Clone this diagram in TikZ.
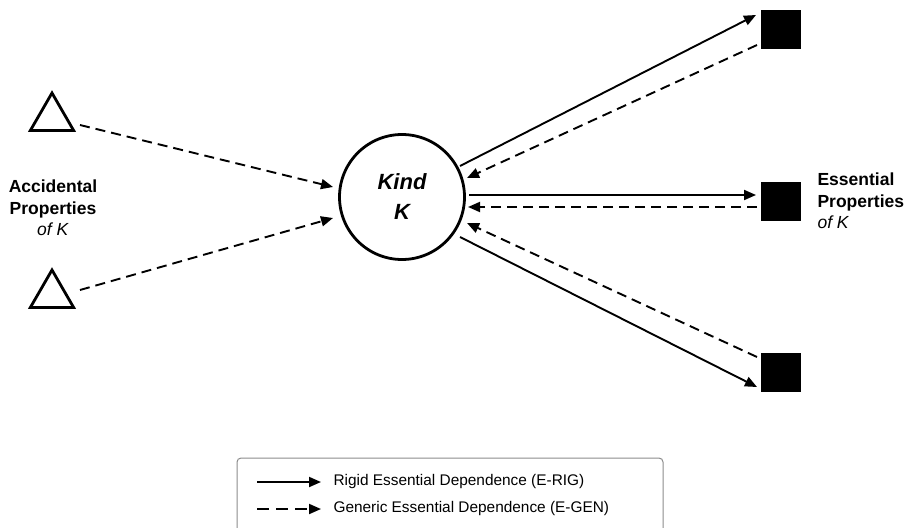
\documentclass[tikz,border=0pt]{standalone}
\usepackage{fontspec}
\setmainfont{Liberation Sans}
\usetikzlibrary{arrows.meta,calc,shapes.geometric}
\begin{document}
\begin{tikzpicture}[x=1pt,y=-1pt,
  tip/.style={-{Triangle[length=12pt,width=10pt]}},
  rig/.style={tip,line width=1.9pt},
  gen/.style={tip,line width=1.9pt,dash pattern=on 10pt off 6pt},
  kindnode/.style={circle,draw,line width=2.8pt,minimum size=125pt,inner sep=0pt,
    align=center,font=\fontsize{22}{30}\selectfont\bfseries\itshape},
  essnode/.style={rectangle,fill=black,minimum width=40pt,minimum height=39pt,inner sep=0pt},
  accnode/.style={regular polygon,regular polygon sides=3,draw,line width=2.8pt,minimum size=50pt,inner sep=0pt},
  lbl/.style={font=\fontsize{17.5}{21.5}\selectfont},
  legtext/.style={anchor=west,font=\fontsize{15.4}{18}\selectfont}]
\useasboundingbox (0,0) rectangle (912,527);
\fill[white] (0,0) rectangle (912,527);

\node[kindnode] (K) at (402,197) {Kind\\K};
\node[essnode] (S1) at (781,30) {};
\node[essnode] (S2) at (781,201) {};
\node[essnode] (S3) at (781,372) {};
\node[accnode] (T1) at (52,118) {};
\node[accnode] (T2) at (52,295) {};

\node[lbl,align=center] (AL) at (53,208) {\textbf{Accidental}\\\textbf{Properties}\\\textit{of K}};
\node[lbl,align=left,anchor=west] (EL) at (814,201) {\textbf{Essential}\\\textbf{Properties}\\\textit{of K}};

% accidental
\draw[gen] ($(T1.center)+(28,7)$) -- ($(K.center)+(-69,-10)$);
\draw[gen] ($(T2.center)+(28,-5)$) -- ($(K.center)+(-69,21)$);

% essential
\draw[rig] ($(K.center)+(58,-31)$) -- ($(S1.center)+(-25,-15)$);
\draw[gen] ($(S1.center)+(-24,15)$) -- ($(K.center)+(65,-19)$);
\draw[rig] ($(K.center)+(67,-2)$) -- ($(S2.center)+(-25,-6)$);
\draw[gen] ($(S2.center)+(-24,6)$) -- ($(K.center)+(66,10)$);
\draw[gen] ($(S3.center)+(-24,-15)$) -- ($(K.center)+(65,26)$);
\draw[rig] ($(K.center)+(58,40)$) -- ($(S3.center)+(-24,15)$);

% legend
\draw[draw=black!45,line width=1pt,rounded corners=4pt] (237,458) rectangle (663,545);
\coordinate (L1a) at (257,482);
\coordinate (L1b) at (321,482);
\coordinate (L2a) at (257,509);
\coordinate (L2b) at (321,509);
\draw[rig] (L1a) -- (L1b);
\draw[tip,line width=1.9pt,dash pattern=on 12pt off 7pt] (L2a) -- (L2b);
\node[legtext] (LT1) at (330,482) {Rigid Essential Dependence (E-RIG)};
\node[legtext] (LT2) at (330,509) {Generic Essential Dependence (E-GEN)};
\end{tikzpicture}
\end{document}
